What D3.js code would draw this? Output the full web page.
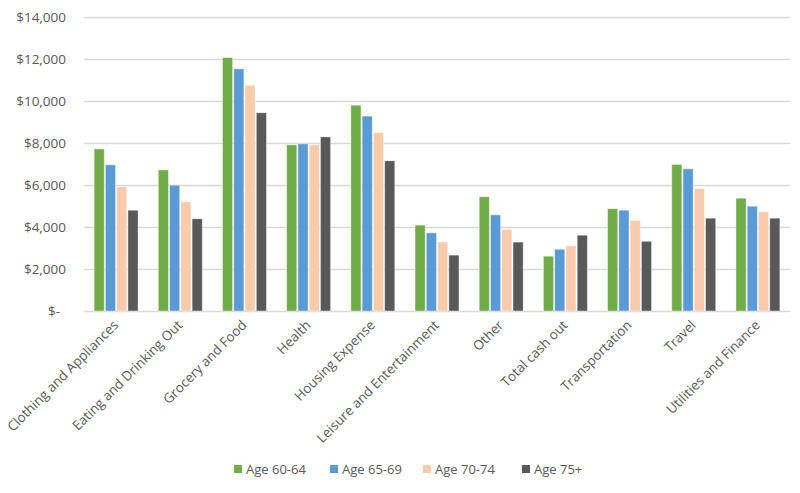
<!DOCTYPE html>
<html>
<head>
<meta charset="utf-8">
<script src="https://cdn.jsdelivr.net/npm/d3@7"></script>
<style>
  body { margin: 0; background: #fff; }
  svg { display: block; font-family: "Open Sans", "Noto Sans", sans-serif; }
</style>
</head>
<body>
<script>
// Kategorien und Serien
const categories = ["Clothing and Appliances", "Eating and Drinking Out", "Grocery and Food", "Health",
  "Housing Expense", "Leisure and Entertainment", "Other", "Total cash out", "Transportation",
  "Travel", "Utilities and Finance"];
const seriesNames = ["Age 60-64", "Age 65-69", "Age 70-74", "Age 75+"];
const age6064 = [7720, 6720, 12070, 7910, 9800, 4090, 5440, 2610, 4870, 6980, 5370];
const age6569 = [6960, 5990, 11530, 7960, 9280, 3720, 4580, 2940, 4800, 6770, 4990];
const age7074 = [5910, 5200, 10750, 7910, 8500, 3280, 3880, 3100, 4310, 5820, 4720];
const age75 = [4800, 4390, 9440, 8290, 7150, 2660, 3280, 3610, 3320, 4420, 4420];
const yTicks = [0, 2000, 4000, 6000, 8000, 10000, 12000, 14000];
const colors = ["#70AD47", "#5B9BD5", "#F8CBAD", "#595959"];

const width = 800, height = 493;
const margin = { top: 17, right: 10, bottom: 182, left: 84 };

const data = categories.map((c, i) => ({
  cat: c,
  values: [age6064[i], age6569[i], age7074[i], age75[i]]
}));

const svg = d3.select("body").append("svg")
  .attr("width", width)
  .attr("height", height);

const x = d3.scaleBand()
  .domain(categories)
  .range([margin.left, width - margin.right])
  .paddingInner(0.28)
  .paddingOuter(0.14);

const x1 = d3.scaleBand()
  .domain(seriesNames)
  .range([0, x.bandwidth()])
  .padding(0.1);

const y = d3.scaleLinear()
  .domain([0, 14000])
  .range([height - margin.bottom, margin.top]);

// Gitterlinien
svg.append("g")
  .selectAll("line")
  .data(yTicks)
  .join("line")
  .attr("x1", margin.left)
  .attr("x2", width - margin.right)
  .attr("y1", d => Math.round(y(d)) + 0.5)
  .attr("y2", d => Math.round(y(d)) + 0.5)
  .attr("stroke", "#d9d9d9")
  .attr("stroke-width", 1.3);

// y-Achsenbeschriftung
svg.append("g")
  .selectAll("text")
  .data(yTicks)
  .join("text")
  .attr("x", d => d === 0 ? 60 : 66)
  .attr("y", d => y(d))
  .attr("dy", "0.35em")
  .attr("text-anchor", "end")
  .attr("font-size", 13.5)
  .attr("fill", "#595959")
  .text(d => d === 0 ? "$-" : "$" + d3.format(",")(d));

// Balken
const groups = svg.append("g")
  .selectAll("g")
  .data(data)
  .join("g")
  .attr("transform", d => `translate(${x(d.cat)},0)`);

groups.selectAll("rect")
  .data(d => d.values.map((v, i) => ({ name: seriesNames[i], value: v, i })))
  .join("rect")
  .attr("x", d => x1(d.name))
  .attr("y", d => y(d.value))
  .attr("width", x1.bandwidth())
  .attr("height", d => y(0) - y(d.value))
  .attr("fill", d => colors[d.i])
  .attr("stroke", "#ffffff")
  .attr("stroke-opacity", 0.5)
  .attr("stroke-width", 0.8);

// x-Achsenbeschriftung, gedreht
svg.append("g")
  .selectAll("text")
  .data(categories)
  .join("text")
  .attr("transform", d => `translate(${x(d) + x.bandwidth() / 2 + 3},${y(0) + 15}) rotate(-45)`)
  .attr("text-anchor", "end")
  .attr("font-size", 13.4)
  .attr("fill", "#595959")
  .text(d => d);

// Legende
const legendX = [234, 330, 423, 522];
const legend = svg.append("g")
  .selectAll("g")
  .data(seriesNames)
  .join("g")
  .attr("transform", (d, i) => `translate(${legendX[i]},469)`);

legend.append("rect")
  .attr("x", 0)
  .attr("y", -4)
  .attr("width", 8)
  .attr("height", 8)
  .attr("fill", (d, i) => colors[i]);

legend.append("text")
  .attr("x", 12)
  .attr("y", 0)
  .attr("dy", "0.35em")
  .attr("font-size", 13)
  .attr("fill", "#595959")
  .text(d => d);
</script>
</body>
</html>
